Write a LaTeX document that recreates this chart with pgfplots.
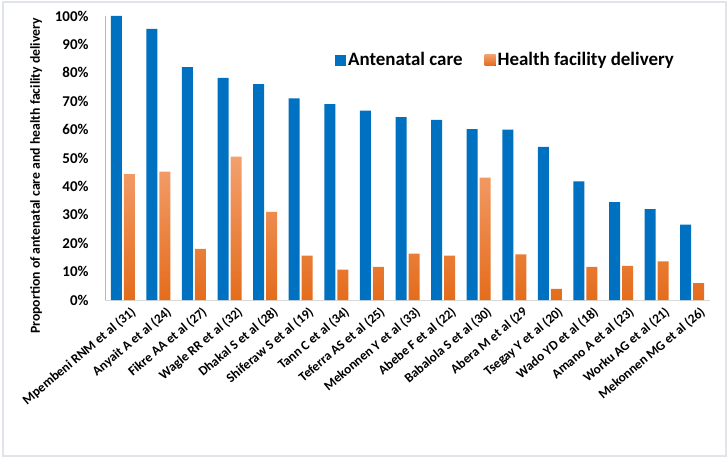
\documentclass[border=0pt]{standalone}
\usepackage{pgfplots}
\pgfplotsset{compat=1.18}
\usepackage{fontspec}
\setmainfont{Carlito}
\definecolor{ancblue}{RGB}{0,112,192}
\definecolor{hfdorangeT}{RGB}{243,160,110}
\definecolor{hfdorangeB}{RGB}{228,108,28}
\definecolor{axgray}{RGB}{217,217,217}
\definecolor{axblue}{RGB}{160,190,225}
\definecolor{framegray}{RGB}{225,228,232}
\begin{document}
\begin{tikzpicture}
\useasboundingbox (-105bp,-162bp) rectangle (623bp,300bp);
\draw[framegray, line width=1.5bp] (-102bp,-156bp) rectangle (621bp,298bp);
\begin{axis}[
  at={(0,0)}, anchor=south west,
  scale only axis, width=605bp, height=284bp,
  xmin=-0.5, xmax=16.5, ymin=0, ymax=100,
  ybar=2bp, bar width=11bp,
  axis x line*=bottom, axis y line*=left,
  x axis line style={axgray, line width=0.8bp, -},
  y axis line style={axblue, line width=0.8bp, -},
  major tick length=0pt,
  xtick={0,...,16},
  xticklabels={Mpembeni RNM et al (31),Anyait A et al (24),Fikre AA et al (27),Wagle RR et al (32),Dhakal S et al (28),Shiferaw S et al (19),Tann C et al (34),Teferra AS et al (25),Mekonnen Y et al (33),Abebe F et al (22),Babalola S et al (30),Abera M et al (29,Tsegay Y et al (20),Wado YD et al (18),Amano A et al (23),Worku AG et al (21),Mekonnen MG et al (26)},
  xticklabel style={rotate=40, anchor=north east, font=\bfseries\fontsize{13.3}{15}\selectfont, inner sep=0bp, xshift=2bp, yshift=-9bp},
  ytick={0,10,...,100},
  yticklabels={0\%,10\%,20\%,30\%,40\%,50\%,60\%,70\%,80\%,90\%,100\%},
  yticklabel style={font=\bfseries\fontsize{15}{17}\selectfont, xshift=-13bp},
  legend style={draw=none, fill=none, at={(0.38,0.845)}, anchor=west, legend columns=2,
    font=\bfseries\fontsize{19}{22}\selectfont, inner sep=0pt,
    /tikz/every even column/.append style={column sep=20bp}},
  legend image code/.code={\fill[#1] (0bp,-5.5bp) rectangle (11bp,5.5bp);},
]
\addplot[draw=none, fill=ancblue] coordinates {
(0,100) (1,95.5) (2,82) (3,78.2) (4,76) (5,71) (6,69) (7,66.7) (8,64.4) (9,63.4) (10,60.2) (11,60) (12,53.9) (13,41.8) (14,34.5) (15,32) (16,26.5)};
\addplot[draw=none, top color=hfdorangeT, bottom color=hfdorangeB] coordinates {
(0,44.3) (1,45.2) (2,18) (3,50.5) (4,31) (5,15.6) (6,10.7) (7,11.7) (8,16.3) (9,15.6) (10,43.1) (11,16.1) (12,3.9) (13,11.7) (14,12) (15,13.6) (16,5.9)};
\legend{Antenatal care, Health facility delivery}
\end{axis}
\node[rotate=90, font=\bfseries\fontsize{13.8}{16}\selectfont] at (-69bp,124bp) {Proportion of antenatal care and health facility delivery};
\end{tikzpicture}
\end{document}
